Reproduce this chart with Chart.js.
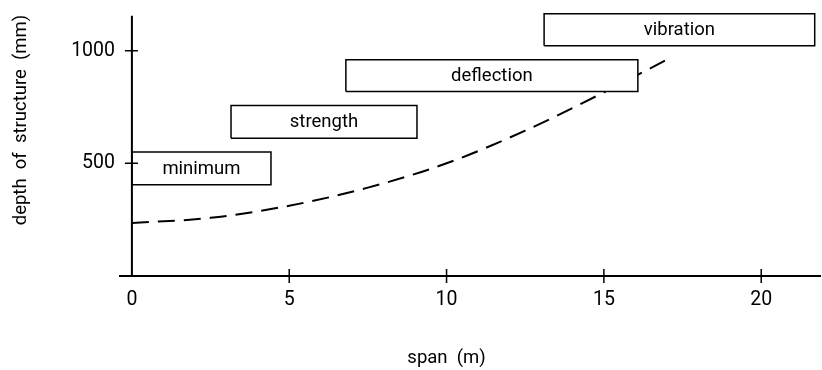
<!DOCTYPE html>
<html>
<head>
<meta charset="utf-8">
<script src="https://cdn.jsdelivr.net/npm/chart.js@4/dist/chart.umd.min.js"></script>
<style>
  body { margin: 0; background: #fff; }
</style>
</head>
<body>
<canvas id="depthChart" width="822" height="370"></canvas>
<script>
// limiting depth of structure against span

// boxes: criterion ranges (span in m, depth in mm)
const boxLabels = ['minimum', 'strength', 'deflection', 'vibration'];
const boxSpanFrom = [0, 3.15, 6.8, 13.1];
const boxSpanTo = [4.42, 9.06, 16.08, 21.7];
const boxDepthLow = [405, 611, 819, 1022];
const boxDepthHigh = [550, 757, 960, 1164];

// dashed curve
const curveSpan = [0, 2.5, 5, 7.5, 10, 12.5, 15, 17];
const curveDepth = [235, 258, 312, 392, 500, 645, 815, 960];

// axes
const xTickValues = [0, 5, 10, 15, 20];
const yTickValues = [500, 1000];
const xTitle = 'span  (m)';
const yTitle = 'depth  of  structure  (mm)';

const FONT = 'Roboto';
const FONT_SIZE = 18.5;

Chart.defaults.font.family = FONT;
Chart.defaults.font.size = FONT_SIZE;
Chart.defaults.color = '#000';

const boxDatasets = boxLabels.map((label, i) => ({
  label: label,
  data: [
    { x: boxSpanFrom[i], y: boxDepthLow[i] },
    { x: boxSpanTo[i], y: boxDepthLow[i] },
    { x: boxSpanTo[i], y: boxDepthHigh[i] },
    { x: boxSpanFrom[i], y: boxDepthHigh[i] },
    { x: boxSpanFrom[i], y: boxDepthLow[i] },
  ],
  borderColor: '#000',
  borderWidth: 1.5,
  backgroundColor: '#fff',
  fill: 'shape',
  pointRadius: 0,
  tension: 0,
  clip: false,
  order: 1,
}));

const curveDataset = {
  label: 'depth',
  data: curveSpan.map((x, i) => ({ x: x, y: curveDepth[i] })),
  borderColor: '#000',
  borderWidth: 2,
  borderDash: [17, 9],
  fill: false,
  pointRadius: 0,
  cubicInterpolationMode: 'monotone',
  clip: false,
  order: 2,
};

// axis lines with ticks crossing them, plus titles
const axesPlugin = {
  id: 'axesPlugin',
  afterDatasetsDraw(chart) {
    const ctx = chart.ctx;
    const x = chart.scales.x;
    const y = chart.scales.y;
    const area = chart.chartArea;
    const x0 = x.getPixelForValue(0);
    const y0 = y.getPixelForValue(0);

    ctx.save();
    ctx.strokeStyle = '#000';
    ctx.lineWidth = 2;
    ctx.setLineDash([]);

    ctx.beginPath();
    ctx.moveTo(area.left, y0);
    ctx.lineTo(area.right, y0);
    ctx.moveTo(x0, y0);
    ctx.lineTo(x0, area.top);
    ctx.stroke();

    ctx.lineWidth = 1.5;
    ctx.beginPath();
    xTickValues.forEach((v) => {
      if (v === 0) return;
      const px = x.getPixelForValue(v);
      ctx.moveTo(px, y0 - 7);
      ctx.lineTo(px, y0 + 7);
    });
    yTickValues.forEach((v) => {
      const py = y.getPixelForValue(v);
      ctx.moveTo(x0 - 7, py);
      ctx.lineTo(x0 + 6, py);
    });
    ctx.stroke();

    // box labels
    ctx.fillStyle = '#000';
    ctx.font = `${FONT_SIZE}px ${FONT}`;
    ctx.textAlign = 'center';
    ctx.textBaseline = 'middle';
    boxLabels.forEach((label, i) => {
      const cx = x.getPixelForValue((boxSpanFrom[i] + boxSpanTo[i]) / 2);
      const cy = y.getPixelForValue((boxDepthLow[i] + boxDepthHigh[i]) / 2);
      ctx.fillText(label, cx, cy + 1);
    });

    // axis titles
    ctx.fillText(xTitle, x.getPixelForValue(10), 358);
    ctx.translate(21, 120);
    ctx.rotate(-Math.PI / 2);
    ctx.fillText(yTitle, 0, 0);
    ctx.restore();
  },
};

const ctx = document.getElementById('depthChart').getContext('2d');
new Chart(ctx, {
  type: 'line',
  data: {
    datasets: [...boxDatasets, curveDataset],
  },
  options: {
    responsive: false,
    animation: false,
    layout: { padding: { top: 15, right: 1, left: 0, bottom: 0 } },
    plugins: {
      legend: { display: false },
      tooltip: { enabled: false },
    },
    scales: {
      x: {
        type: 'linear',
        min: -0.41,
        max: 21.9,
        grid: { display: false, drawTicks: false },
        border: { display: false },
        ticks: { padding: 12, font: { size: 19.5 }, callback: (v) => String(v) },
        afterBuildTicks: (scale) => {
          scale.ticks = xTickValues.map((v) => ({ value: v }));
        },
        afterFit: (scale) => {
          scale.height = 94;
        },
      },
      y: {
        type: 'linear',
        min: 0,
        max: 1155,
        grid: { display: false, drawTicks: false },
        border: { display: false },
        ticks: { padding: 4, font: { size: 19.5 }, callback: (v) => String(v) },
        afterBuildTicks: (scale) => {
          scale.ticks = yTickValues.map((v) => ({ value: v }));
        },
        afterFit: (scale) => {
          scale.width = 119;
        },
      },
    },
  },
  plugins: [axesPlugin],
});
</script>
</body>
</html>
